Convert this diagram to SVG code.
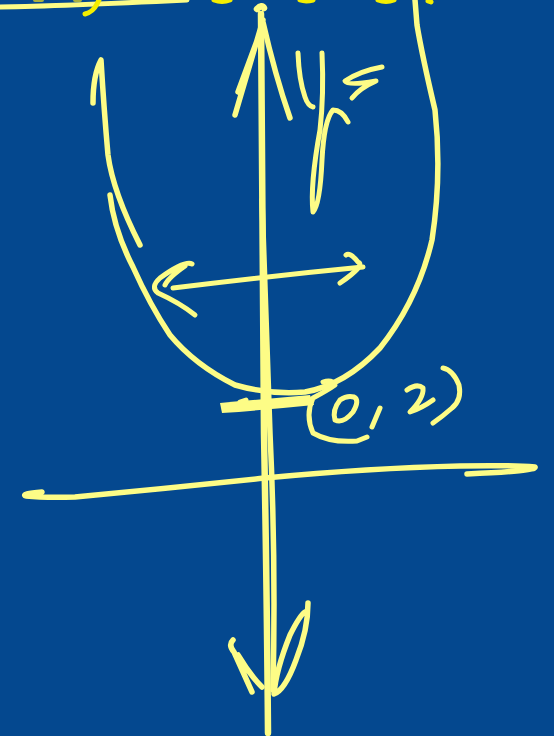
<svg xmlns="http://www.w3.org/2000/svg" width="554" height="736" viewBox="0 0 554 736">
<style>
.ink{fill:none;stroke:#fdfc86;stroke-width:5.5;stroke-linecap:round;stroke-linejoin:round}
.thick{stroke-width:6.5}
.thin{stroke-width:5}
.top{fill:none;stroke:#f4ee00;stroke-width:5;stroke-linecap:round}
.olive{fill:none;stroke:#a8b040;stroke-width:4;stroke-linecap:round}
</style>
<rect width="554" height="736" fill="#04488f"/>
<g id="top-remnants">
<path class="ink thin" d="M0,7 Q60,6 187,0"/>
<path class="top" d="M85,14 Q93,12 97,4 L99,0"/>
<path class="olive" d="M35,0 L42,0 M75,0 L80,0"/>
<path class="top" d="M214,0 Q222,3 230,0"/>
<path class="top" d="M300,0 Q306,2 313,0"/>
<path class="top" d="M378,0 Q386,3 394,0"/>
<path class="top" d="M428,1 L431,2"/>
</g>
<g id="parabola">
<path class="ink" d="M93,103 Q93,75 101,60 Q104,110 108,155 Q113,192 140,245"/>
<path class="ink" d="M110,195 Q114,230 133,267 Q150,305 170,335 Q195,365 235,385 Q270,395 305,392 Q345,385 380,348 Q418,300 432,240 Q442,175 435,110 Q422,55 417,25 L415,0"/>
</g>
<g id="y-axis">
<path class="ink thick" d="M257,9 Q262,4 264,8 M261,14 Q262,200 264,433 Q267,600 268,733"/>
<path class="ink" d="M262,200 Q266,320 270,433 Q276,560 273,690"/>
<path class="ink" d="M263,20 L235,115 M238,92 Q248,65 258,38 M263,22 Q275,75 290,118"/>
<path class="ink" d="M233,640 Q228,645 234,652 L252,692 M262,687 Q250,675 238,655 M308,603 Q308,630 296,660 Q285,690 274,694 Q276,670 290,635 Q300,615 305,612"/>
</g>
<g id="x-axis">
<path class="ink" d="M42,492 Q20,494 26,496 Q45,498 75,497 Q170,488 265,478 Q370,468 460,466 Q510,465 535,467 Q537,471 467,474"/>
</g>
<g id="double-arrow">
<path class="ink thin" d="M173,288 Q270,276 363,267"/>
<path class="ink thin" d="M346,255 Q350,252 358,262 Q366,265 340,283"/>
<path class="ink thin" d="M192,264 Q185,260 160,278 Q150,287 158,293 Q180,303 195,315 M185,266 Q168,278 165,285"/>
</g>
<g id="y-label">
<path class="ink thin" d="M298,53 Q299,80 305,97 Q308,106 313,107"/>
<path class="ink thin" d="M322,53 Q324,95 320,130 Q310,185 313,212 Q320,205 322,160 Q324,120 333,110 Q342,110 348,122"/>
<path class="ink thin" d="M382,67 Q360,71 345,81 Q348,86 376,81 Q360,88 352,98"/>
</g>
<g id="point-label">
<path fill="#fdfc86" d="M220,403 Q265,399 310,395 L314,405 Q265,410 222,413 Z"/>
<path class="ink thin" d="M240,402 L246,400"/>
<path class="ink thin" d="M323,382 Q332,379 335,385 Q328,390 313,398 Q305,415 313,433 Q330,443 357,441 L367,437"/>
<path class="ink thin" d="M340,400 Q332,410 335,420 Q343,424 353,412 Q360,400 354,397 Q347,395 340,400"/>
<path class="ink thin" d="M380,408 L372,427"/>
<path class="ink thin" d="M407,390 Q417,383 423,388 Q424,398 410,412 Q422,408 433,400"/>
<path class="ink thin" d="M443,368 Q453,370 459,385 Q462,400 452,408 Q443,416 433,423"/>
</g>
</svg>
